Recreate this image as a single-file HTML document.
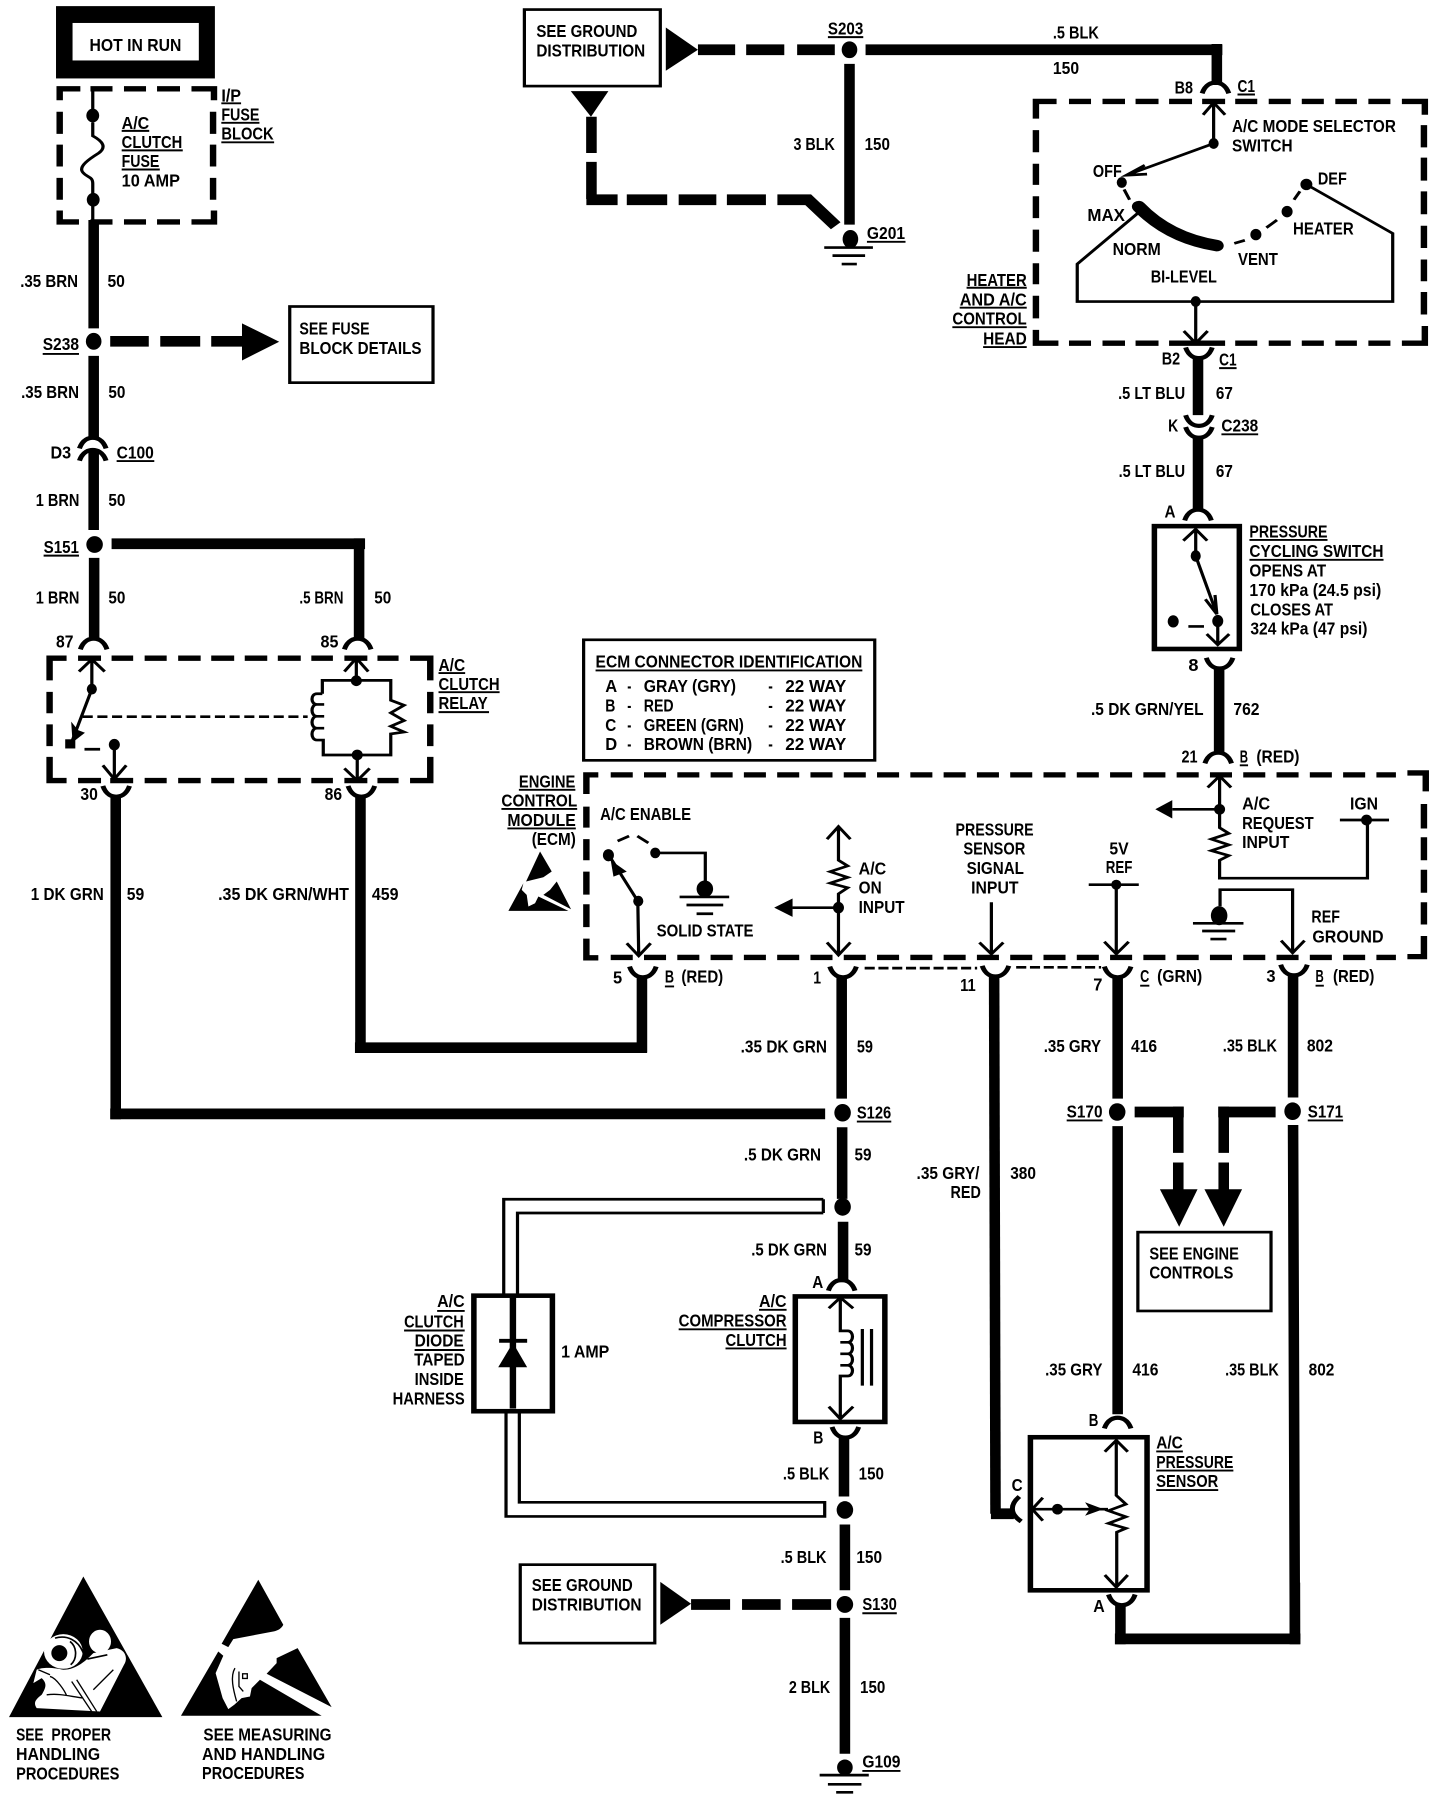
<!DOCTYPE html>
<html lang="en"><head><meta charset="utf-8"><title>A/C clutch wiring diagram</title>
<style>
html,body{margin:0;padding:0;background:#fff;width:1440px;height:1800px;overflow:hidden}
svg{position:absolute;left:0;top:0;display:block}
text{font-family:"Liberation Sans",sans-serif;font-weight:bold;font-size:46px;fill:#000}
.v{fill:none;stroke:#000;stroke-width:23}
.h{fill:none;stroke:#000;stroke-width:28}
.l{fill:none;stroke:#000;stroke-width:7}
.m{fill:none;stroke:#000;stroke-width:10}
.d{fill:none;stroke:#000;stroke-width:14}
.u{fill:none;stroke:#000;stroke-width:5}
.k{fill:#000}
.o{fill:#fff}
</style></head><body>
<svg width="1440" height="1800" viewBox="0 0 3136 4704" preserveAspectRatio="none" xmlns="http://www.w3.org/2000/svg">
<defs>
<path id="n" d="M-29 32C-22 8-8 4 0 4S22 8 29 32" fill="none" stroke="#000" stroke-width="11"/>
<path id="c" d="M-29 3C-22 27-8 31 0 31S22 27 29 3" fill="none" stroke="#000" stroke-width="11"/>
</defs>
<rect width="3136" height="4704" fill="#fff"/>

<!-- ===== top-left ===== -->
<g>
<rect x="122" y="16" width="346" height="189" class="k"/><rect x="158" y="60" width="275" height="98" class="o"/>
<text x="195" y="133" textLength="200" lengthAdjust="spacingAndGlyphs">HOT IN RUN</text>
<path class="d" d="M130 262V232H175M197 232H245M270 232H318M342 232H392M417 232H466V262M130 292V350M130 378V435M130 465V522M130 550V580H172M197 580H245M270 580H318M342 580H392M417 580H466V550M464 292V350M464 378V435M464 465V522"/>
<path class="l" d="M202 232V300M202 320V355C225 370 232 385 215 400C195 415 170 435 180 450C190 465 202 460 202 480V520V580"/>
<ellipse cx="202" cy="302" rx="14" ry="18"/><ellipse cx="203" cy="522" rx="14" ry="18"/>
<text x="265" y="337" textLength="60" lengthAdjust="spacingAndGlyphs">A/C</text>
<text x="265" y="387" textLength="132" lengthAdjust="spacingAndGlyphs">CLUTCH</text>
<text x="265" y="437" textLength="82" lengthAdjust="spacingAndGlyphs">FUSE</text>
<text x="265" y="488" textLength="127" lengthAdjust="spacingAndGlyphs">10 AMP</text>
<text x="482" y="265" textLength="43" lengthAdjust="spacingAndGlyphs">I/P</text>
<text x="482" y="315" textLength="83" lengthAdjust="spacingAndGlyphs">FUSE</text>
<text x="482" y="365" textLength="114" lengthAdjust="spacingAndGlyphs">BLOCK</text>
<path class="u" d="M265 342H325M265 393H398M265 443H348M482 270H525M482 321H565M482 372H597M93 925H172M95 1452H172M254 1205H336"/>
<path class="v" d="M204 575V858M204 930V1145M204 1175V1385M205 1458V1670M782 1407V1670"/>
<text x="44" y="750" textLength="126" lengthAdjust="spacingAndGlyphs">.35 BRN</text>
<text x="234" y="750" textLength="38" lengthAdjust="spacingAndGlyphs">50</text>
<ellipse cx="204" cy="892" rx="17" ry="22"/>
<text x="93" y="915" textLength="79" lengthAdjust="spacingAndGlyphs">S238</text>
<path class="h" d="M240 892H324M349 892H436M460 892H532"/>
<polygon points="527,845 608,893 527,942"/>
<rect x="631" y="801" width="312" height="199" fill="none" stroke="#000" stroke-width="7"/>
<text x="652" y="874" textLength="153" lengthAdjust="spacingAndGlyphs">SEE FUSE</text>
<text x="652" y="925" textLength="266" lengthAdjust="spacingAndGlyphs">BLOCK DETAILS</text>
<text x="46" y="1040" textLength="126" lengthAdjust="spacingAndGlyphs">.35 BRN</text>
<text x="236" y="1040" textLength="37" lengthAdjust="spacingAndGlyphs">50</text>
<use href="#n" x="202" y="1140"/><use href="#n" x="202" y="1172"/>
<text x="110" y="1198" textLength="45" lengthAdjust="spacingAndGlyphs">D3</text>
<text x="254" y="1198" textLength="81" lengthAdjust="spacingAndGlyphs">C100</text>
<text x="78" y="1322" textLength="95" lengthAdjust="spacingAndGlyphs">1 BRN</text>
<text x="236" y="1322" textLength="37" lengthAdjust="spacingAndGlyphs">50</text>
<ellipse cx="206" cy="1423" rx="18" ry="22"/>
<text x="95" y="1445" textLength="77" lengthAdjust="spacingAndGlyphs">S151</text>
<path class="h" d="M243 1421H795"/>
<text x="78" y="1577" textLength="95" lengthAdjust="spacingAndGlyphs">1 BRN</text>
<text x="236" y="1577" textLength="37" lengthAdjust="spacingAndGlyphs">50</text>
<text x="652" y="1577" textLength="96" lengthAdjust="spacingAndGlyphs">.5 BRN</text>
<text x="815" y="1577" textLength="37" lengthAdjust="spacingAndGlyphs">50</text>
<rect x="1142" y="25" width="296" height="200" fill="none" stroke="#000" stroke-width="7"/>
<text x="1168" y="97" textLength="220" lengthAdjust="spacingAndGlyphs">SEE GROUND</text>
<text x="1168" y="148" textLength="237" lengthAdjust="spacingAndGlyphs">DISTRIBUTION</text>
<polygon points="1450,72 1520,130 1450,185"/>
<path class="h" d="M1520 130H1601M1625 130H1708M1736 130H1818"/>
<polygon points="1243,238 1325,238 1287,305"/>
<path class="v" d="M1288 305V400M1288 423V520"/>
<path class="h" d="M1277 522H1345M1365 522H1453M1478 522H1560M1583 522H1668M1693 522H1760L1820 590"/>
</g>

<!-- ===== top-right ===== -->
<g transform="translate(1568,0)">
<text x="235" y="90" textLength="77" lengthAdjust="spacingAndGlyphs">S203</text>
<ellipse cx="282" cy="130" rx="17" ry="22"/>
<path class="h" d="M317 130H1094"/>
<path class="v" d="M1082 115V222M282 167V587"/>
<text x="725" y="100" textLength="100" lengthAdjust="spacingAndGlyphs">.5 BLK</text>
<text x="725" y="193" textLength="57" lengthAdjust="spacingAndGlyphs">150</text>
<text x="160" y="392" textLength="90" lengthAdjust="spacingAndGlyphs">3 BLK</text>
<text x="315" y="392" textLength="55" lengthAdjust="spacingAndGlyphs">150</text>
<ellipse cx="284" cy="625" rx="17" ry="24"/>
<path class="l" d="M227 647H333M245 668H316M265 690H298"/>
<text x="320" y="625" textLength="83" lengthAdjust="spacingAndGlyphs">G201</text>
<path class="u" d="M235 97H312M320 632H404M1127 247H1165M537 752H668M522 804H668M506 855H668M573 907H668M1087 962H1125M1092 1135H1172M1153 1411H1323M1153 1463H1445"/>
<text x="990" y="245" textLength="40" lengthAdjust="spacingAndGlyphs">B8</text>
<text x="1127" y="240" textLength="38" lengthAdjust="spacingAndGlyphs">C1</text>
<use href="#n" x="1079" y="212"/>
<path class="d" d="M688 310V265H733M760 265H808M833 265H882M905 265H955M978 265H1028M1050 265H1100M1122 265H1170M1195 265H1243M1267 265H1315M1340 265H1387M1412 265H1460M1485 265H1535V300M688 340V398M688 428V483M688 513V570M688 600V658M688 688V743M688 773V832M688 862V897H737M760 897H808M833 897H882M905 897H955M978 897H1100M1122 897H1170M1195 897H1243M1267 897H1315M1340 897H1387M1412 897H1460M1485 897H1535V852M1533 327V385M1533 412V472M1533 500V560M1533 590V648M1533 678V735M1533 763V822"/>
<path class="l" d="M1052 300L1075 268L1100 300M1075 268V375L885 458M925 432L885 458L930 455M1277 482L1465 610V788H778V690L912 555M1036 788V895M1010 865L1036 897L1062 865M880 495L892 522M1120 636L1143 628M1190 595L1213 575M1250 522L1263 500"/>
<ellipse cx="1075" cy="375" rx="11" ry="14"/>
<ellipse cx="875" cy="477" rx="11" ry="14"/>
<ellipse cx="1167" cy="613" rx="12" ry="15"/><ellipse cx="1235" cy="553" rx="12" ry="15"/><ellipse cx="1277" cy="482" rx="13" ry="15"/><ellipse cx="1036" cy="788" rx="11" ry="14"/>
<path d="M912 540C960 600 1020 630 1082 642" fill="none" stroke="#000" stroke-width="30" stroke-linecap="round"/>
<text x="1115" y="345" textLength="357" lengthAdjust="spacingAndGlyphs">A/C MODE SELECTOR</text>
<text x="1115" y="396" textLength="132" lengthAdjust="spacingAndGlyphs">SWITCH</text>
<text x="812" y="463" textLength="63" lengthAdjust="spacingAndGlyphs">OFF</text>
<text x="1302" y="482" textLength="63" lengthAdjust="spacingAndGlyphs">DEF</text>
<text x="800" y="578" textLength="82" lengthAdjust="spacingAndGlyphs">MAX</text>
<text x="855" y="666" textLength="105" lengthAdjust="spacingAndGlyphs">NORM</text>
<text x="1248" y="613" textLength="132" lengthAdjust="spacingAndGlyphs">HEATER</text>
<text x="1128" y="693" textLength="87" lengthAdjust="spacingAndGlyphs">VENT</text>
<text x="938" y="738" textLength="144" lengthAdjust="spacingAndGlyphs">BI-LEVEL</text>
<text x="537" y="747" textLength="131" lengthAdjust="spacingAndGlyphs">HEATER</text>
<text x="522" y="798" textLength="146" lengthAdjust="spacingAndGlyphs">AND A/C</text>
<text x="506" y="848" textLength="162" lengthAdjust="spacingAndGlyphs">CONTROL</text>
<text x="573" y="900" textLength="95" lengthAdjust="spacingAndGlyphs">HEAD</text>
<text x="962" y="953" textLength="40" lengthAdjust="spacingAndGlyphs">B2</text>
<text x="1087" y="955" textLength="38" lengthAdjust="spacingAndGlyphs">C1</text>
<use href="#c" x="1043" y="905"/>
<path class="v" d="M1041 935V1085M1041 1140V1335"/>
<text x="867" y="1043" textLength="146" lengthAdjust="spacingAndGlyphs">.5 LT BLU</text>
<text x="1080" y="1043" textLength="37" lengthAdjust="spacingAndGlyphs">67</text>
<use href="#c" x="1043" y="1082"/><use href="#c" x="1043" y="1113"/>
<text x="976" y="1128" textLength="22" lengthAdjust="spacingAndGlyphs">K</text>
<text x="1092" y="1128" textLength="80" lengthAdjust="spacingAndGlyphs">C238</text>
<text x="868" y="1247" textLength="145" lengthAdjust="spacingAndGlyphs">.5 LT BLU</text>
<text x="1080" y="1247" textLength="37" lengthAdjust="spacingAndGlyphs">67</text>
<text x="968" y="1353" textLength="24" lengthAdjust="spacingAndGlyphs">A</text>
<use href="#n" x="1041" y="1328"/>
<rect x="946" y="1375" width="185" height="321" fill="none" stroke="#000" stroke-width="12"/>
<path class="l" d="M1009 1413L1036 1383L1061 1413M1036 1383V1453L1082 1605M1057 1566L1082 1605L1078 1555M1084 1623V1685M1060 1657L1084 1685L1109 1657M1020 1637H1054"/>
<ellipse cx="1036" cy="1453" rx="11" ry="15"/><ellipse cx="1084" cy="1623" rx="12" ry="16"/><ellipse cx="987" cy="1624" rx="12" ry="16"/>
<text x="1153" y="1405" textLength="170" lengthAdjust="spacingAndGlyphs">PRESSURE</text>
<text x="1153" y="1455" textLength="292" lengthAdjust="spacingAndGlyphs">CYCLING SWITCH</text>
<text x="1153" y="1507" textLength="167" lengthAdjust="spacingAndGlyphs">OPENS AT</text>
<text x="1153" y="1558" textLength="287" lengthAdjust="spacingAndGlyphs">170 kPa (24.5 psi)</text>
</g>

<!-- ===== middle-left ===== -->
<g transform="translate(0,1568)">
<text x="122" y="124" textLength="38" lengthAdjust="spacingAndGlyphs">87</text>
<text x="698" y="124" textLength="39" lengthAdjust="spacingAndGlyphs">85</text>
<use href="#n" x="204" y="97"/><use href="#n" x="779" y="97"/>
<path class="d" d="M108 210V152H145M170 152H220M243 152H290M315 152H363M388 152H437M460 152H510M533 152H582M605 152H655M678 152H725M750 152H800M822 152H868M893 152H937V210M108 240V296M108 325V382M108 410V472H145M170 472H220M240 472H290M315 472H363M388 472H437M460 472H510M533 472H582M605 472H655M678 472H725M750 472H800M822 472H868M893 472H937V410M937 240V296M937 325V382"/>
<path class="l" d="M172 187L200 155L228 187M200 155V233L155 375M249 378V468M224 432L249 468L275 432M184 390H218"/>
<polygon points="155,318 158,372 185,347 170,340"/>
<ellipse cx="200" cy="233" rx="11" ry="14"/><ellipse cx="249" cy="378" rx="12" ry="15"/><rect x="142" y="364" width="22" height="24" class="k"/>
<path class="l" stroke-dasharray="22 10" d="M180 305H670"/>
<path class="l" d="M750 187L776 152L802 187M776 152V211M702 245V210H851V262L880 275L851 295L880 315L851 330L880 345L851 350V405H704V366H690C676 366 676 335 690 335H706M690 335C676 335 676 304 690 304H706M690 304C676 304 676 273 690 273H706M690 273C676 273 676 245 690 245H702M778 405V470M750 440L778 472L805 440"/>
<ellipse cx="776" cy="211" rx="12" ry="14"/><ellipse cx="778" cy="405" rx="12" ry="14"/>
<text x="955" y="185" textLength="58" lengthAdjust="spacingAndGlyphs">A/C</text>
<text x="955" y="235" textLength="133" lengthAdjust="spacingAndGlyphs">CLUTCH</text>
<text x="955" y="285" textLength="107" lengthAdjust="spacingAndGlyphs">RELAY</text>
<path class="u" d="M955 191H1013M955 241H1088M955 293H1065M1130 496H1253M1092 546H1257M1105 597H1254M1297 184H1878M1448 1010H1468"/>
<text x="175" y="523" textLength="38" lengthAdjust="spacingAndGlyphs">30</text>
<text x="707" y="523" textLength="38" lengthAdjust="spacingAndGlyphs">86</text>
<use href="#c" x="253" y="483"/><use href="#c" x="787" y="483"/>
<path class="v" d="M252 510V1357M785 510V1183M1398 985V1183"/>
<path class="h" d="M240 1343H1797M773 1170H1409"/>
<text x="67" y="784" textLength="159" lengthAdjust="spacingAndGlyphs">1 DK GRN</text>
<text x="276" y="784" textLength="38" lengthAdjust="spacingAndGlyphs">59</text>
<text x="475" y="784" textLength="285" lengthAdjust="spacingAndGlyphs">.35 DK GRN/WHT</text>
<text x="810" y="784" textLength="58" lengthAdjust="spacingAndGlyphs">459</text>
<rect x="1271" y="104" width="634" height="315" fill="none" stroke="#000" stroke-width="7"/>
<text x="1297" y="176" textLength="581" lengthAdjust="spacingAndGlyphs">ECM CONNECTOR IDENTIFICATION</text>
<text x="1318" y="240" textLength="26" lengthAdjust="spacingAndGlyphs">A</text><text x="1366" y="240" textLength="9" lengthAdjust="spacingAndGlyphs">-</text><text x="1402" y="240" textLength="201" lengthAdjust="spacingAndGlyphs">GRAY (GRY)</text><text x="1673" y="240" textLength="10" lengthAdjust="spacingAndGlyphs">-</text><text x="1710" y="240" textLength="133" lengthAdjust="spacingAndGlyphs">22 WAY</text>
<text x="1318" y="291" textLength="22" lengthAdjust="spacingAndGlyphs">B</text><text x="1366" y="291" textLength="9" lengthAdjust="spacingAndGlyphs">-</text><text x="1402" y="291" textLength="65" lengthAdjust="spacingAndGlyphs">RED</text><text x="1673" y="291" textLength="10" lengthAdjust="spacingAndGlyphs">-</text><text x="1710" y="291" textLength="133" lengthAdjust="spacingAndGlyphs">22 WAY</text>
<text x="1318" y="342" textLength="24" lengthAdjust="spacingAndGlyphs">C</text><text x="1366" y="342" textLength="9" lengthAdjust="spacingAndGlyphs">-</text><text x="1402" y="342" textLength="218" lengthAdjust="spacingAndGlyphs">GREEN (GRN)</text><text x="1673" y="342" textLength="10" lengthAdjust="spacingAndGlyphs">-</text><text x="1710" y="342" textLength="133" lengthAdjust="spacingAndGlyphs">22 WAY</text>
<text x="1318" y="392" textLength="26" lengthAdjust="spacingAndGlyphs">D</text><text x="1366" y="392" textLength="9" lengthAdjust="spacingAndGlyphs">-</text><text x="1402" y="392" textLength="236" lengthAdjust="spacingAndGlyphs">BROWN (BRN)</text><text x="1673" y="392" textLength="10" lengthAdjust="spacingAndGlyphs">-</text><text x="1710" y="392" textLength="133" lengthAdjust="spacingAndGlyphs">22 WAY</text>
<path class="d" d="M1277 507V457H1303M1277 540V595M1277 625V680M1277 710V770M1277 795V855M1277 885V935H1303"/>
<path class="d" stroke-dasharray="48 24.5" d="M1330 457H3040M1330 934H3040"/>
<text x="1130" y="490" textLength="123" lengthAdjust="spacingAndGlyphs">ENGINE</text>
<text x="1092" y="540" textLength="165" lengthAdjust="spacingAndGlyphs">CONTROL</text>
<text x="1105" y="590" textLength="149" lengthAdjust="spacingAndGlyphs">MODULE</text>
<text x="1158" y="640" textLength="96" lengthAdjust="spacingAndGlyphs">(ECM)</text>
<g transform="translate(1089,522.4) scale(.726,.871)">
<polygon points="120,155 155,215 130,232 78,245"/>
<polygon points="70,250 25,333 205,333 115,290 105,310 85,320 80,285 65,270"/>
<polygon points="170,245 213,328 130,285 150,270"/>
</g>
<text x="1307" y="575" textLength="198" lengthAdjust="spacingAndGlyphs">A/C ENABLE</text>
<path class="l" d="M1427 661H1536V760M1389 787L1325 665M1389 787L1391 930M1365 897L1391 930L1417 897"/>
<polygon points="1330,680 1336,723 1365,710"/>
<path class="l" d="M1345 630L1370 617M1388 617L1412 635M1480 776H1588M1495 797H1575M1517 820H1553"/>
<ellipse cx="1325" cy="667" rx="12" ry="16"/><ellipse cx="1427" cy="661" rx="11" ry="14"/><ellipse cx="1390" cy="787" rx="11" ry="14"/><ellipse cx="1535" cy="755" rx="18" ry="22"/>
<text x="1430" y="879" textLength="211" lengthAdjust="spacingAndGlyphs">SOLID STATE</text>
<text x="1335" y="1002" textLength="20" lengthAdjust="spacingAndGlyphs">5</text>
<use href="#c" x="1400" y="955"/>
<text x="1448" y="1000" textLength="20" lengthAdjust="spacingAndGlyphs">B</text>
<text x="1484" y="1000" textLength="91" lengthAdjust="spacingAndGlyphs">(RED)</text>
</g>

<!-- ===== middle-right ===== -->
<g transform="translate(1568,1568)">
<text x="1155" y="40" textLength="180" lengthAdjust="spacingAndGlyphs">CLOSES AT</text>
<text x="1155" y="90" textLength="255" lengthAdjust="spacingAndGlyphs">324 kPa (47 psi)</text>
<text x="1020" y="185" textLength="22" lengthAdjust="spacingAndGlyphs">8</text>
<use href="#c" x="1088" y="148"/>
<path class="v" d="M1087 175V400M265 985V1303M266 1378V1565M866 985V1303M866 1375V2128M1248 980V1300M1248 1372L1252 2715"/>
<text x="808" y="301" textLength="245" lengthAdjust="spacingAndGlyphs">.5 DK GRN/YEL</text>
<text x="1118" y="301" textLength="57" lengthAdjust="spacingAndGlyphs">762</text>
<use href="#n" x="1085" y="395"/>
<text x="1005" y="425" textLength="35" lengthAdjust="spacingAndGlyphs">21</text>
<text x="1132" y="425" textLength="18" lengthAdjust="spacingAndGlyphs">B</text>
<text x="1168" y="425" textLength="94" lengthAdjust="spacingAndGlyphs">(RED)</text>
<path class="u" d="M1132 432H1150M915 1008H935M1297 1008H1315M298 1363H373M755 1360H833M1280 1360H1357"/>
<path class="d" d="M1497 452H1537V500M1533 533V597M1533 620V680M1533 705V765M1533 790V848M1533 878V932H1497"/>
<path class="l" d="M1062 490L1088 460L1113 490M1088 460V595L1108 610L1070 625L1108 640L1070 655L1108 668L1088 680V727H1410V575M985 547H1088M1350 575H1457"/>
<polygon points="948,547 985,523 985,571"/>
<ellipse cx="1088" cy="547" rx="12" ry="14"/><ellipse cx="1408" cy="575" rx="12" ry="14"/>
<text x="1372" y="548" textLength="61" lengthAdjust="spacingAndGlyphs">IGN</text>
<text x="1137" y="548" textLength="61" lengthAdjust="spacingAndGlyphs">A/C</text>
<text x="1137" y="598" textLength="156" lengthAdjust="spacingAndGlyphs">REQUEST</text>
<text x="1137" y="648" textLength="103" lengthAdjust="spacingAndGlyphs">INPUT</text>
<path class="l" d="M1089 800V757H1247V920M1222 890L1247 922L1273 890M1030 845H1140M1050 865H1122M1068 886H1103"/>
<ellipse cx="1087" cy="825" rx="18" ry="25"/>
<text x="1288" y="843" textLength="62" lengthAdjust="spacingAndGlyphs">REF</text>
<text x="1290" y="895" textLength="155" lengthAdjust="spacingAndGlyphs">GROUND</text>
<text x="848" y="665" textLength="42" lengthAdjust="spacingAndGlyphs">5V</text>
<text x="840" y="713" textLength="58" lengthAdjust="spacingAndGlyphs">REF</text>
<path class="l" d="M803 744H912M863 744V922M837 893L863 925L890 893"/>
<ellipse cx="863" cy="744" rx="11" ry="13"/>
<text x="513" y="615" textLength="170" lengthAdjust="spacingAndGlyphs">PRESSURE</text>
<text x="530" y="665" textLength="135" lengthAdjust="spacingAndGlyphs">SENSOR</text>
<text x="537" y="716" textLength="125" lengthAdjust="spacingAndGlyphs">SIGNAL</text>
<text x="547" y="767" textLength="103" lengthAdjust="spacingAndGlyphs">INPUT</text>
<path class="l" d="M591 790V925M565 895L591 925L617 895"/>
<text x="302" y="717" textLength="60" lengthAdjust="spacingAndGlyphs">A/C</text>
<text x="302" y="767" textLength="50" lengthAdjust="spacingAndGlyphs">ON</text>
<text x="302" y="818" textLength="100" lengthAdjust="spacingAndGlyphs">INPUT</text>
<path class="l" d="M233 625L258 592L284 625M258 592V680L278 695L240 710L278 725L240 740L278 752L258 768V925M233 895L258 928L284 895M158 804H258"/>
<polygon points="118,804 158,780 158,828"/>
<ellipse cx="258" cy="804" rx="12" ry="15"/>
<text x="203" y="1002" textLength="17" lengthAdjust="spacingAndGlyphs">1</text>
<use href="#c" x="268" y="955"/>
<path class="l" stroke-dasharray="22 8" d="M315 962H560M645 960H830"/>
<text x="523" y="1022" textLength="34" lengthAdjust="spacingAndGlyphs">11</text>
<use href="#c" x="600" y="953"/>
<path class="v" d="M597 985L600 2388"/>
<text x="813" y="1020" textLength="20" lengthAdjust="spacingAndGlyphs">7</text>
<use href="#c" x="866" y="955"/>
<text x="915" y="998" textLength="20" lengthAdjust="spacingAndGlyphs">C</text>
<text x="952" y="998" textLength="98" lengthAdjust="spacingAndGlyphs">(GRN)</text>
<text x="1190" y="998" textLength="20" lengthAdjust="spacingAndGlyphs">3</text>
<use href="#c" x="1250" y="950"/>
<text x="1297" y="998" textLength="18" lengthAdjust="spacingAndGlyphs">B</text>
<text x="1335" y="998" textLength="90" lengthAdjust="spacingAndGlyphs">(RED)</text>
<text x="45" y="1183" textLength="188" lengthAdjust="spacingAndGlyphs">.35 DK GRN</text>
<text x="298" y="1183" textLength="35" lengthAdjust="spacingAndGlyphs">59</text>
<text x="705" y="1181" textLength="125" lengthAdjust="spacingAndGlyphs">.35 GRY</text>
<text x="895" y="1181" textLength="57" lengthAdjust="spacingAndGlyphs">416</text>
<text x="1095" y="1180" textLength="118" lengthAdjust="spacingAndGlyphs">.35 BLK</text>
<text x="1278" y="1180" textLength="57" lengthAdjust="spacingAndGlyphs">802</text>
<ellipse cx="267" cy="1340" rx="18" ry="23"/><ellipse cx="865" cy="1338" rx="18" ry="23"/><ellipse cx="1247" cy="1336" rx="18" ry="23"/>
<text x="298" y="1355" textLength="75" lengthAdjust="spacingAndGlyphs">S126</text>
<text x="755" y="1353" textLength="78" lengthAdjust="spacingAndGlyphs">S170</text>
<text x="1280" y="1353" textLength="77" lengthAdjust="spacingAndGlyphs">S171</text>
<path class="h" d="M903 1338H1010M1085 1338H1210"/>
<path class="v" d="M998 1324V1445M998 1470V1545M1097 1324V1445M1097 1470V1545"/>
<polygon points="958,1540 1040,1540 1000,1638"/><polygon points="1055,1540 1137,1540 1097,1638"/>
<text x="52" y="1465" textLength="168" lengthAdjust="spacingAndGlyphs">.5 DK GRN</text>
<text x="293" y="1465" textLength="37" lengthAdjust="spacingAndGlyphs">59</text>
<text x="428" y="1513" textLength="137" lengthAdjust="spacingAndGlyphs">.35 GRY/</text>
<text x="502" y="1563" textLength="66" lengthAdjust="spacingAndGlyphs">RED</text>
<text x="632" y="1513" textLength="56" lengthAdjust="spacingAndGlyphs">380</text>
</g>

<!-- ===== bottom-left ===== -->
<g transform="translate(0,3136)">
<path class="l" d="M1793 -2H1097V250M1793 34H1127V250M1793 -2V34M1102 555V827H1796V790H1131V555"/>
<rect x="1032" y="250" width="171" height="302" fill="none" stroke="#000" stroke-width="12"/>
<path class="d" d="M1117 255V545"/>
<path class="m" d="M1087 368H1148"/>
<polygon points="1117,373 1085,437 1148,437"/>
<text x="1222" y="412" textLength="105" lengthAdjust="spacingAndGlyphs">1 AMP</text>
<text x="952" y="280" textLength="60" lengthAdjust="spacingAndGlyphs">A/C</text>
<text x="880" y="333" textLength="130" lengthAdjust="spacingAndGlyphs">CLUTCH</text>
<text x="903" y="383" textLength="107" lengthAdjust="spacingAndGlyphs">DIODE</text>
<text x="902" y="433" textLength="110" lengthAdjust="spacingAndGlyphs">TAPED</text>
<text x="903" y="484" textLength="107" lengthAdjust="spacingAndGlyphs">INSIDE</text>
<text x="855" y="535" textLength="157" lengthAdjust="spacingAndGlyphs">HARNESS</text>
<path class="u" d="M952 290H1012M880 341H1012M903 392H1012"/>
<rect x="1133" y="953" width="293" height="205" fill="none" stroke="#000" stroke-width="7"/>
<text x="1158" y="1022" textLength="220" lengthAdjust="spacingAndGlyphs">SEE GROUND</text>
<text x="1158" y="1073" textLength="239" lengthAdjust="spacingAndGlyphs">DISTRIBUTION</text>
<polygon points="1438,998 1505,1055 1438,1110"/>
<path class="h" d="M1505 1057H1590M1616 1057H1700M1725 1057H1810"/>

<!-- handling icon -->
<g transform="translate(0,966.4) scale(.726,.871)">
<polygon points="250,20 487,442 27,442"/>
<path class="o" d="M110 300C130 290 170 295 190 300C230 300 260 270 280 250L350 235C375 240 385 265 372 285L300 425L110 415C100 400 105 390 125 375C140 350 140 340 125 325L100 340Z"/>
<ellipse cx="190" cy="245" rx="58" ry="52" class="o"/>
<ellipse cx="300" cy="215" rx="33" ry="35" class="o"/>
<ellipse cx="178" cy="250" rx="24" ry="24"/>
<path d="M165 205C200 195 235 210 250 250M210 215C232 232 232 268 212 285M262 268L322 255" fill="none" stroke="#000" stroke-width="5"/>
<path d="M230 330L290 425M215 335L275 425M340 300L280 360M150 320C170 325 195 365 200 378M140 375C180 370 210 380 250 385M115 300L150 315" fill="none" stroke="#000" stroke-width="4"/>
</g>
<!-- measuring icon -->
<g transform="translate(381,966.4) scale(.726,.871)">
<path d="M250 30L325 165C320 175 310 183 295 185L175 208L160 232L140 222Z"/>
<path d="M130 245L18 438H440L255 330L230 355L225 380L200 385L178 405L160 418L143 385L122 310L145 258Z"/>
<path d="M368 235L470 412L275 312L305 280L305 265Z"/>
<path d="M180 295C165 320 175 360 185 395M192 305V350L205 365" fill="none" stroke="#000" stroke-width="4"/>
<rect x="203" y="312" width="14" height="14" fill="none" stroke="#000" stroke-width="4"/>
</g>
<text x="35" y="1413" textLength="60" lengthAdjust="spacingAndGlyphs">SEE</text>
<text x="112" y="1413" textLength="130" lengthAdjust="spacingAndGlyphs">PROPER</text>
<text x="35" y="1464" textLength="183" lengthAdjust="spacingAndGlyphs">HANDLING</text>
<text x="35" y="1514" textLength="225" lengthAdjust="spacingAndGlyphs">PROCEDURES</text>
<text x="443" y="1413" textLength="279" lengthAdjust="spacingAndGlyphs">SEE MEASURING</text>
<text x="440" y="1463" textLength="268" lengthAdjust="spacingAndGlyphs">AND HANDLING</text>
<text x="440" y="1513" textLength="223" lengthAdjust="spacingAndGlyphs">PROCEDURES</text>
</g>

<!-- ===== bottom-right ===== -->
<g transform="translate(1568,3136)">
<ellipse cx="267" cy="18" rx="18" ry="23"/>
<path class="v" d="M268 57V215M270 622V775M272 848V1020M272 1092V1447"/>
<text x="68" y="145" textLength="165" lengthAdjust="spacingAndGlyphs">.5 DK GRN</text>
<text x="293" y="145" textLength="37" lengthAdjust="spacingAndGlyphs">59</text>
<text x="201" y="230" textLength="24" lengthAdjust="spacingAndGlyphs">A</text>
<use href="#n" x="265" y="205"/>
<rect x="164" y="252" width="195" height="328" fill="none" stroke="#000" stroke-width="12"/>
<path class="l" d="M237 283L262 255L290 283M262 255V342H278C292 342 292 372 278 372H262M278 372C292 372 292 402 278 402H262M278 402C292 402 292 432 278 432H262M278 432C292 432 292 460 278 460H262V570M237 540L262 572L290 540"/>
<path class="l" d="M310 337V485M330 337V485"/>
<text x="85" y="280" textLength="60" lengthAdjust="spacingAndGlyphs">A/C</text>
<text x="-90" y="331" textLength="235" lengthAdjust="spacingAndGlyphs">COMPRESSOR</text>
<text x="12" y="382" textLength="133" lengthAdjust="spacingAndGlyphs">CLUTCH</text>
<path class="u" d="M85 287H145M-90 338H145M12 388H145M310 1080H385M310 1492H393M950 657H1008M950 707H1118M950 758H1085"/>
<text x="203" y="636" textLength="22" lengthAdjust="spacingAndGlyphs">B</text>
<use href="#c" x="273" y="590"/>
<text x="137" y="731" textLength="101" lengthAdjust="spacingAndGlyphs">.5 BLK</text>
<text x="302" y="731" textLength="55" lengthAdjust="spacingAndGlyphs">150</text>
<ellipse cx="272" cy="810" rx="18" ry="23"/>
<text x="132" y="948" textLength="100" lengthAdjust="spacingAndGlyphs">.5 BLK</text>
<text x="297" y="948" textLength="56" lengthAdjust="spacingAndGlyphs">150</text>
<ellipse cx="272" cy="1057" rx="18" ry="22"/>
<text x="310" y="1072" textLength="75" lengthAdjust="spacingAndGlyphs">S130</text>
<text x="150" y="1288" textLength="90" lengthAdjust="spacingAndGlyphs">2 BLK</text>
<text x="305" y="1288" textLength="55" lengthAdjust="spacingAndGlyphs">150</text>
<ellipse cx="272" cy="1483" rx="17" ry="21"/>
<text x="310" y="1483" textLength="83" lengthAdjust="spacingAndGlyphs">G109</text>
<path class="l" d="M217 1503H324M235 1527H308M253 1548H290"/>
<rect x="910" y="84" width="290" height="206" fill="none" stroke="#000" stroke-width="7"/>
<text x="935" y="155" textLength="195" lengthAdjust="spacingAndGlyphs">SEE ENGINE</text>
<text x="935" y="205" textLength="183" lengthAdjust="spacingAndGlyphs">CONTROLS</text>
<path class="h" d="M590 820H640"/>
<path d="M652 775C632 795 630 820 656 840" fill="none" stroke="#000" stroke-width="11"/>
<text x="635" y="760" textLength="24" lengthAdjust="spacingAndGlyphs">C</text>
<text x="708" y="459" textLength="125" lengthAdjust="spacingAndGlyphs">.35 GRY</text>
<text x="898" y="459" textLength="57" lengthAdjust="spacingAndGlyphs">416</text>
<text x="1100" y="459" textLength="117" lengthAdjust="spacingAndGlyphs">.35 BLK</text>
<text x="1282" y="459" textLength="56" lengthAdjust="spacingAndGlyphs">802</text>
<text x="803" y="590" textLength="21" lengthAdjust="spacingAndGlyphs">B</text>
<use href="#n" x="866" y="565"/>
<rect x="676" y="620" width="254" height="400" fill="none" stroke="#000" stroke-width="12"/>
<path class="l" d="M838 658L863 628L888 658M863 628V772L884 795L846 812L884 828L846 845L884 858L864 868V1010M838 980L863 1012L888 980M703 778L680 808L703 838M680 808H845"/>
<polygon points="795,790 835,808 795,825 805,808"/>
<ellipse cx="735" cy="808" rx="12" ry="14"/>
<text x="950" y="650" textLength="58" lengthAdjust="spacingAndGlyphs">A/C</text>
<text x="950" y="700" textLength="168" lengthAdjust="spacingAndGlyphs">PRESSURE</text>
<text x="950" y="750" textLength="135" lengthAdjust="spacingAndGlyphs">SENSOR</text>
<text x="813" y="1077" textLength="25" lengthAdjust="spacingAndGlyphs">A</text>
<use href="#c" x="875" y="1028"/>
<path class="v" d="M872 1055V1161M1252 1000V1161"/>
<path class="h" d="M860 1147H1264"/>
</g>
</svg>
</body></html>
